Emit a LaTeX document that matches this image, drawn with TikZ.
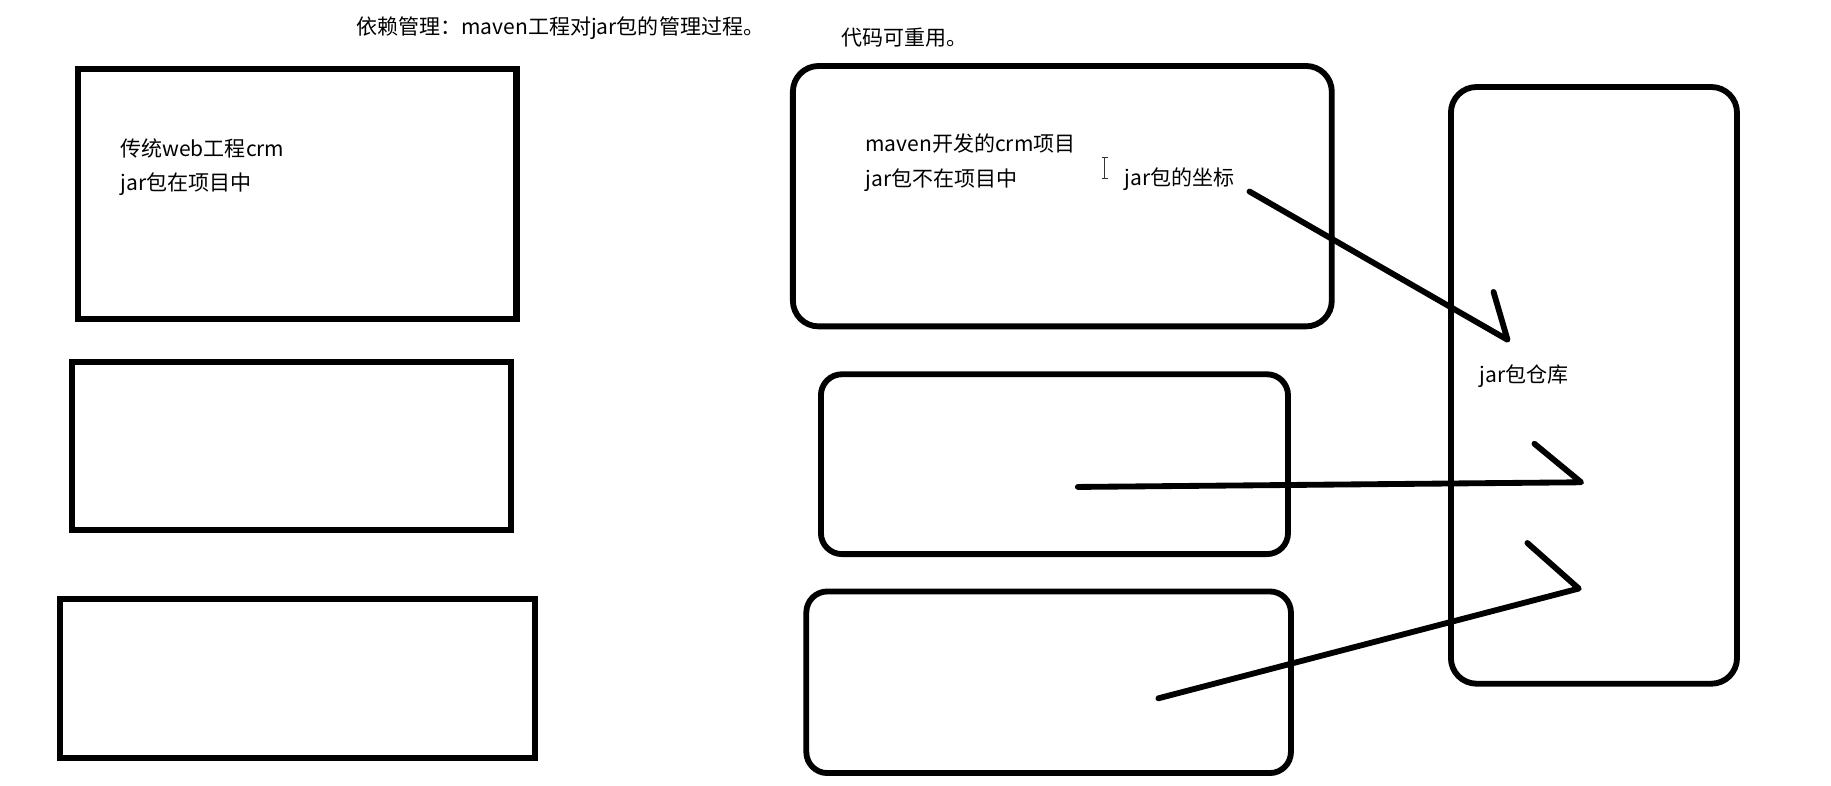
\documentclass[tikz,border=0pt]{standalone}
\usepackage{fontspec}
\newfontfamily\cjk{Noto Sans CJK SC}
\begin{document}
\begin{tikzpicture}[x=1pt,y=-1pt,
  sqbox/.style={draw=black, line width=5.2pt, rectangle, inner sep=0pt},
  rbox/.style={draw=black, line width=5pt, rectangle, rounded corners=20pt, inner sep=0pt},
  lbl/.style={anchor=west, inner sep=0pt, font=\cjk\fontsize{18}{21}\selectfont},
  arr/.style={draw=black, line width=5pt, line cap=round, line join=round}]
\fill[white] (0,0) rectangle (1568,673);
\useasboundingbox (0,0) rectangle (1568,673);
% titles
\node[lbl] (title) at (305,24) {依赖管理：maven工程对jar包的管理过程。};
\node[lbl] (reuse) at (720,32) {代码可重用。};
% left boxes
\node[sqbox, minimum width=375.6pt, minimum height=214.6pt] (L1) at (254.5,166) {};
\node[sqbox, minimum width=375.8pt, minimum height=143.8pt] (L2) at (249.4,382.2) {};
\node[sqbox, minimum width=406.3pt, minimum height=136.6pt] (L3) at (254.85,580.9) {};
\node[lbl] (t1) at (103,127) {传统web工程crm};
\node[lbl] (t2) at (103,158) {jar包在项目中};
% right boxes
\node[rbox, minimum width=461.5pt, minimum height=223pt, rounded corners=22pt] (R1) at (909.75,168) {};
\node[rbox, minimum width=400pt, minimum height=154pt, rounded corners=18pt] (R2) at (903,397.5) {};
\node[rbox, minimum width=415pt, minimum height=155.5pt, rounded corners=18pt] (R3) at (898,584.25) {};
\node[rbox, minimum width=245pt, minimum height=511pt, rounded corners=22pt] (T) at (1365,330) {};
\node[lbl] (m1) at (741,123) {maven开发的crm项目};
\node[lbl] (m2) at (741,154) {jar包不在项目中};
\node[lbl] (coord) at (963,153) {jar包的坐标};
\node[lbl] (repo) at (1267,322) {jar包仓库};
% text cursor
\draw[line width=1.1pt, black!80] (946,135) -- (946,153) (943.5,135) -- (948.5,135) (943.5,153) -- (948.5,153);
% arrows
\coordinate (a1s) at (1070,164); \coordinate (a1t) at (1291,291); \coordinate (a1b) at (1279,250);
\coordinate (a2s) at (923,417);  \coordinate (a2t) at (1354,413); \coordinate (a2b) at (1314,380);
\coordinate (a3s) at (992,598);  \coordinate (a3t) at (1352,504); \coordinate (a3b) at (1308,465);
\draw[arr] (a1s) -- (a1t) -- (a1b);
\draw[arr] (a2s) -- (a2t) -- (a2b);
\draw[arr] (a3s) -- (a3t) -- (a3b);
\end{tikzpicture}
\end{document}
